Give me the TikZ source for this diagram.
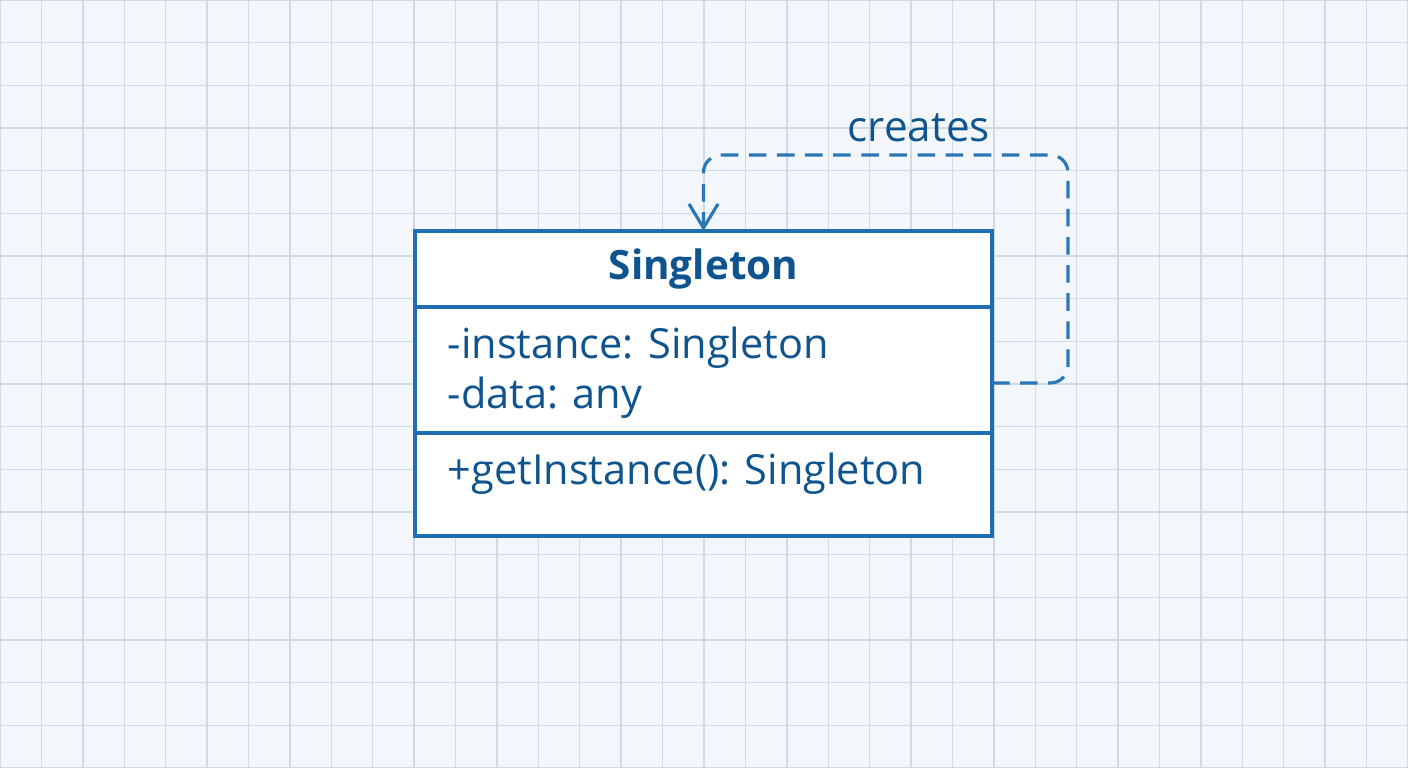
\documentclass[tikz,border=0pt]{standalone}
\usepackage{fontspec}
\setmainfont{Open Sans}
\usepackage{tikz}
\usetikzlibrary{arrows.meta,positioning,calc}

\definecolor{paper}{HTML}{F3F7FB}
\definecolor{gridc}{HTML}{D0DAE4}
\definecolor{umlline}{HTML}{1F6EB1}
\definecolor{umltext}{HTML}{0F548F}
\definecolor{dashc}{HTML}{2A76B6}

\begin{document}
\begin{tikzpicture}[
    part/.style={draw=umlline, line width=0.9pt, fill=white, minimum width=5.77cm, inner sep=0pt, outer sep=0pt, text=umltext, font=\fontsize{11.5}{14}\selectfont},
    member/.style={anchor=west, inner sep=0pt, text=umltext, align=left, font=\fontsize{11.8}{14.2}\selectfont},
    dep/.style={-{Straight Barb[length=2.4mm,width=2.9mm]}, dashc, line width=0.9pt, dash pattern=on 5pt off 3pt, rounded corners=5pt}
]
\useasboundingbox (0,0) rectangle (14.08,7.68);
\fill[paper] (0,0) rectangle (14.08,7.68);
\draw[gridc, line width=0.4pt] (0,0) grid[xstep=14.08/34, ystep=7.68/18] (14.08,7.68);

% class box
\node[part, minimum height=0.76cm, anchor=north, font=\fontsize{11.5}{14}\selectfont\bfseries] (title) at (7.035,5.37) {Singleton};
\node[part, minimum height=1.26cm, anchor=north] (attrs) at (title.south) {};
\node[part, minimum height=1.03cm, anchor=north] (ops) at (attrs.south) {};

\node[member] (fields) at ($(attrs.west)+(0.32,-0.03)$) {-instance: Singleton\\-data: any};
\node[member] (methods) at ($(ops.west)+(0.32,0.11)$) {+getInstance(): Singleton};

% self dependency
\coordinate (loopc) at (10.68,6.13);
\draw[dep] ($(attrs.east)+(0,-0.13)$) -| (loopc) -| (title.north);
\node[text=umltext, font=\fontsize{12}{14}\selectfont] (lbl) at (9.19,6.40) {creates};
\end{tikzpicture}
\end{document}
